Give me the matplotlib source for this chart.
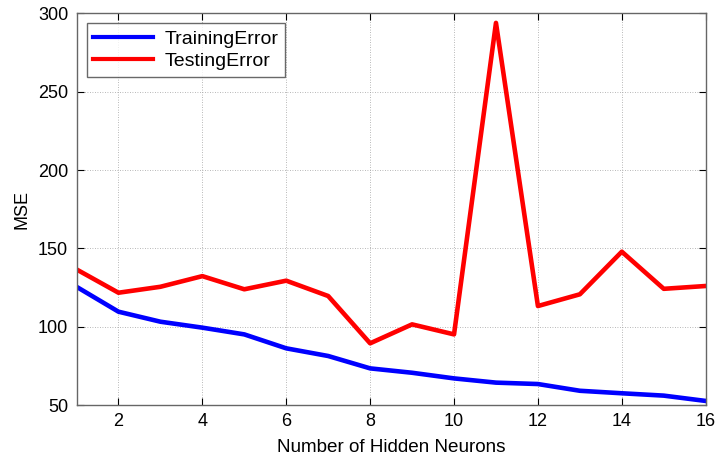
import matplotlib
matplotlib.use("Agg")
import matplotlib.pyplot as plt

plt.rcParams['font.family'] = ['Liberation Sans', 'DejaVu Sans']

neurons = list(range(1, 17))
training_error = [125.5, 109.6, 103.2, 99.4, 95.1, 86.2, 81.3, 73.4, 70.6, 67.0, 64.3, 63.4, 59.1, 57.5, 56.0, 52.6]
testing_error = [136.6, 121.7, 125.5, 132.3, 123.9, 129.4, 119.6, 89.4, 101.5, 95.1, 294.0, 113.2, 120.7, 147.9, 124.2, 126.0]
xticks = [2, 4, 6, 8, 10, 12, 14, 16]
yticks = [50, 100, 150, 200, 250, 300]

fig = plt.figure(figsize=(7.15, 4.59), dpi=100)
ax = fig.add_axes([0.107, 0.1176, 0.880, 0.853])
ax.plot(neurons, training_error, color='#0000ff', lw=3.3, label='TrainingError')
ax.plot(neurons, testing_error, color='#ff0000', lw=3.3, label='TestingError')
ax.set_xlim(1, 16)
ax.set_ylim(50, 300)
ax.set_xticks(xticks)
ax.set_yticks(yticks)
ax.grid(True, linestyle=(0, (1, 2)), color='#a0a0a0', lw=0.6)
ax.tick_params(direction='in', top=True, right=True, labelsize=13, length=5, color='black', pad=6)
for s in ax.spines.values():
    s.set_color('#666666')
    s.set_linewidth(1.0)
ax.set_xlabel('Number of Hidden Neurons', fontsize=13.6, labelpad=6)
ax.set_ylabel('MSE', fontsize=13, labelpad=5)
leg = ax.legend(loc='upper left', frameon=True, fancybox=False, fontsize=14,
                edgecolor='#444444', handlelength=3.05, handletextpad=0.6, borderpad=0.35,
                labelspacing=0.25, borderaxespad=0, bbox_to_anchor=(0.016, 0.975))
leg.get_frame().set_linewidth(1.0)
for h in leg.get_lines():
    h.set_linewidth(3.0)
fig.savefig('out.png', dpi=100)
